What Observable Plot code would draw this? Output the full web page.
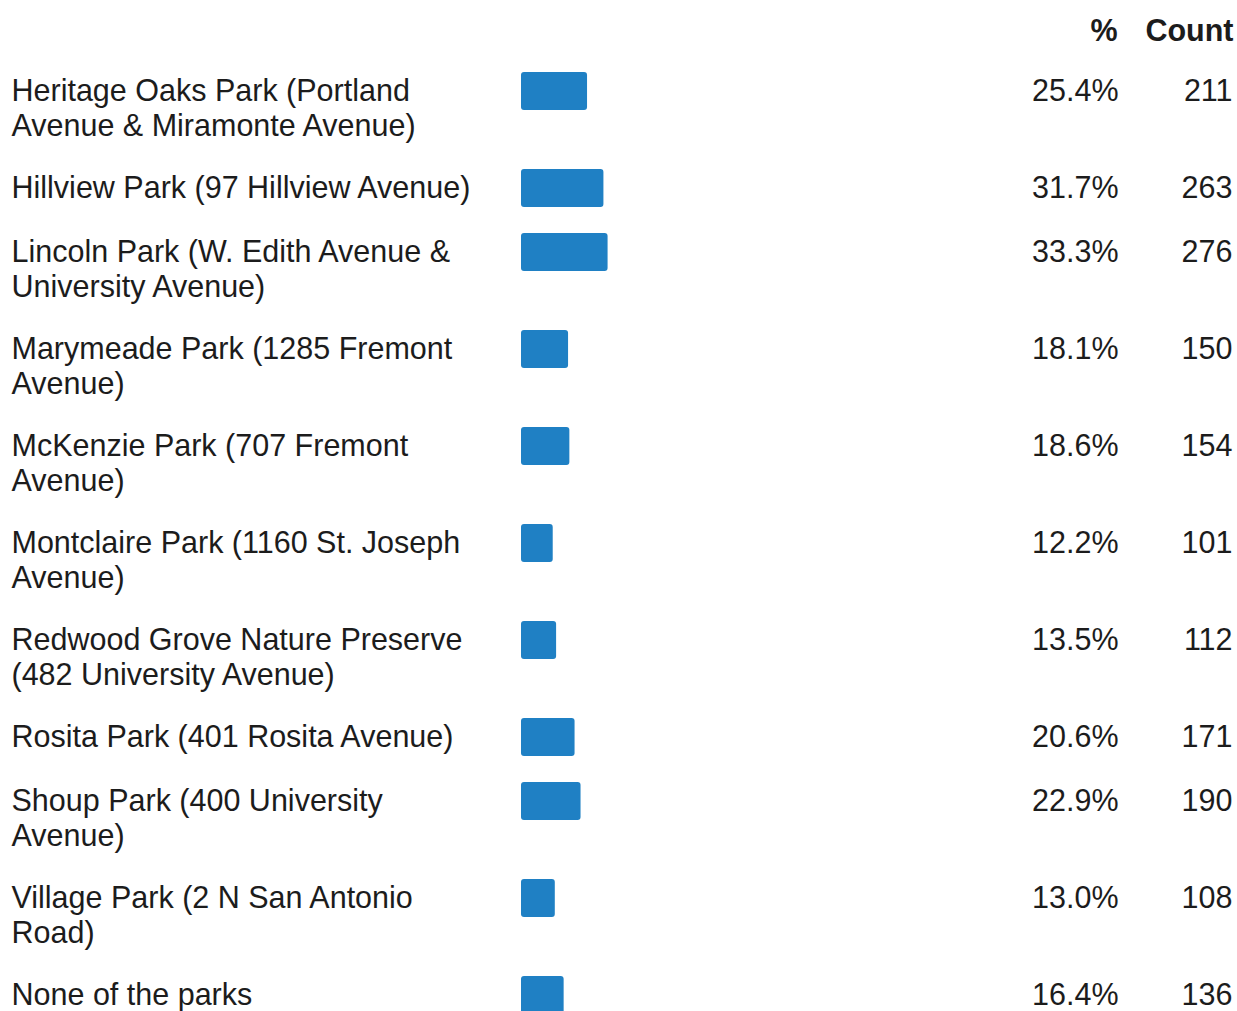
<!DOCTYPE html>
<html>
<head>
<meta charset="utf-8">
<script src="https://cdn.jsdelivr.net/npm/d3@7"></script>
<script src="https://cdn.jsdelivr.net/npm/@observablehq/plot@0.6"></script>
<style>
  html, body { margin: 0; padding: 0; background: #fff; }
  #chart svg { display: block; }
</style>
</head>
<body>
<div id="chart"></div>
<script>
const labels = [
  "Heritage Oaks Park (Portland\nAvenue & Miramonte Avenue)",
  "Hillview Park (97 Hillview Avenue)",
  "Lincoln Park (W. Edith Avenue &\nUniversity Avenue)",
  "Marymeade Park (1285 Fremont\nAvenue)",
  "McKenzie Park (707 Fremont\nAvenue)",
  "Montclaire Park (1160 St. Joseph\nAvenue)",
  "Redwood Grove Nature Preserve\n(482 University Avenue)",
  "Rosita Park (401 Rosita Avenue)",
  "Shoup Park (400 University\nAvenue)",
  "Village Park (2 N San Antonio\nRoad)",
  "None of the parks"
];
const percents = [25.4, 31.7, 33.3, 18.1, 18.6, 12.2, 13.5, 20.6, 22.9, 13.0, 16.4];
const counts = [211, 263, 276, 150, 154, 101, 112, 171, 190, 108, 136];
const headers = ["%", "Count"];

const W = 1237, H = 1011;
const fontSize = 30.5;
const lineH = 36 / fontSize;
const barH = 38;
const rowBase = 31, rowPerLine = 33;
const topStart = 72;

// Build rows: vertical offset accumulates per label line count
let acc = 0;
const rows = labels.map((label, i) => {
  const lines = label.split("\n").length;
  const r = {label, pct: percents[i], count: counts[i], top: acc};
  acc += rowBase + rowPerLine * lines;
  return r;
});

const txtDy = 28 - 0.71 * lineH * fontSize;
const font = {fontSize, fontFamily: "'Liberation Sans', Arial, Helvetica, sans-serif", fill: "#1c1c1c"};

const chart = Plot.plot({
  width: W,
  height: H,
  margin: 0,
  style: {background: "#fff", fontFamily: "'Liberation Sans', Arial, sans-serif"},
  x: {domain: [0, 100], range: [521, 781], axis: null},
  y: {domain: [0, H - topStart], range: [topStart, H], axis: null},
  marks: [
    Plot.rect(rows, {x1: 0, x2: "pct", y1: "top", y2: d => d.top + barH, fill: "#1f80c4", rx: 3}),
    Plot.text(rows, {y: "top", text: "label", frameAnchor: "left", textAnchor: "start", dx: 11, dy: txtDy, lineAnchor: "top", lineHeight: lineH, ...font}),
    Plot.text(rows, {y: "top", text: d => d.pct.toFixed(1) + "%", frameAnchor: "right", textAnchor: "end", dx: -119, dy: txtDy, lineAnchor: "top", lineHeight: lineH, ...font}),
    Plot.text(rows, {y: "top", text: d => String(d.count), frameAnchor: "right", textAnchor: "end", dx: -5, dy: txtDy, lineAnchor: "top", lineHeight: lineH, ...font}),
    Plot.text([headers[0]], {text: d => d, frameAnchor: "top-right", textAnchor: "end", lineAnchor: "bottom", dx: -120, dy: 40, fontWeight: "bold", ...font}),
    Plot.text([headers[1]], {text: d => d, frameAnchor: "top-right", textAnchor: "end", lineAnchor: "bottom", dx: -4, dy: 40, fontWeight: "bold", ...font})
  ]
});
document.getElementById("chart").appendChild(chart);
</script>
</body>
</html>
